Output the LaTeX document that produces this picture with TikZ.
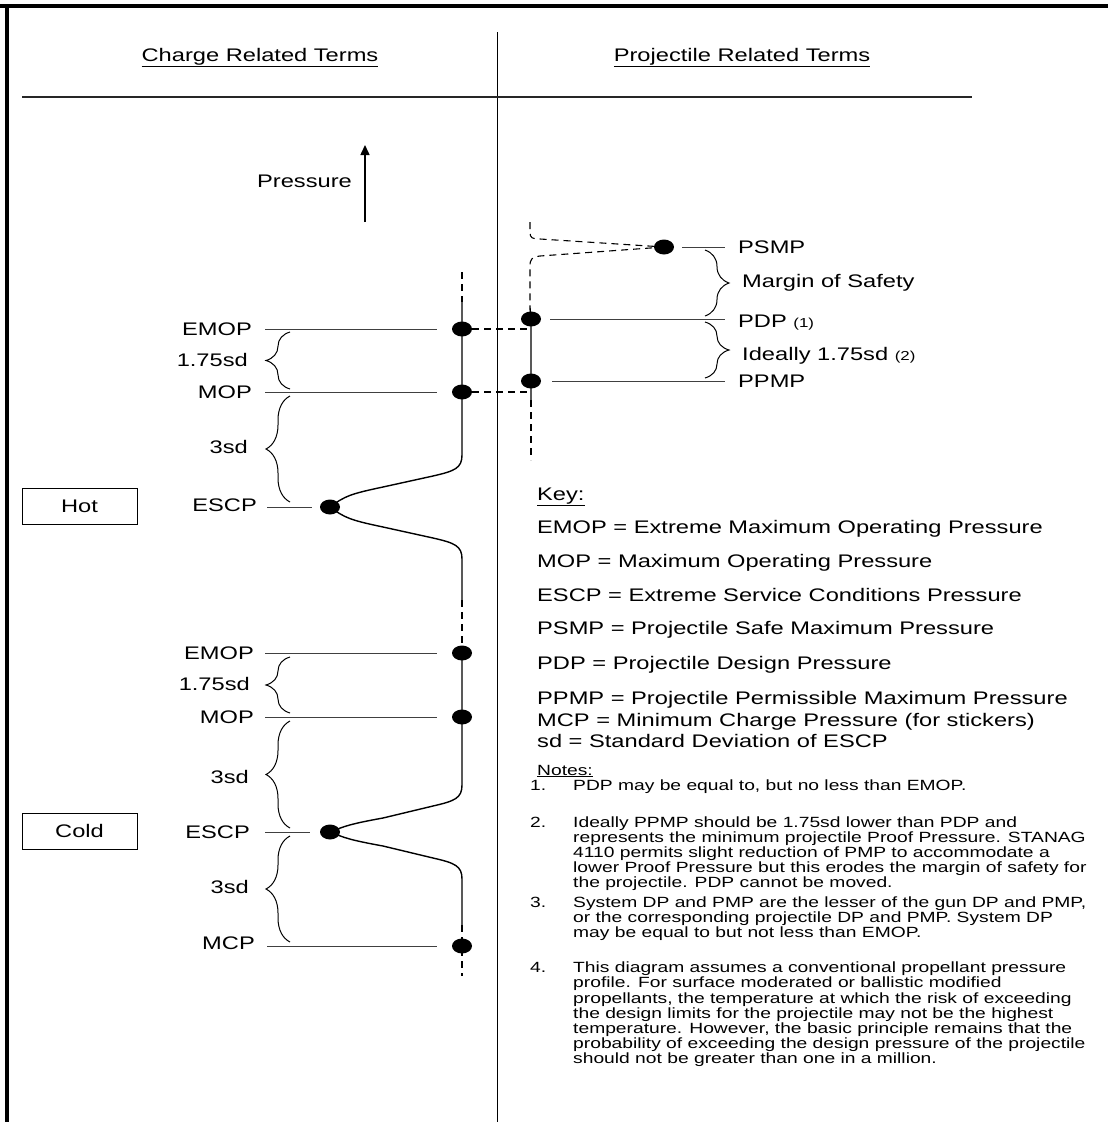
\documentclass[tikz,border=0pt]{standalone}
\usepackage{fontspec}
\setmainfont{Liberation Sans}[FakeStretch=1.3]
\usetikzlibrary{decorations.pathreplacing,arrows.meta,shapes.geometric}
\begin{document}
\begin{tikzpicture}[x=1pt,y=-1pt,
  lbl/.style={font=\fontsize{18.2}{21}\selectfont, inner sep=0pt},
  nte/.style={font=\fontsize{14.8}{17}\selectfont, inner sep=0pt, anchor=base west},
  key/.style={lbl, anchor=base west},
  conn/.style={line width=1.4pt, black},
  dsh/.style={line width=1.1pt, black, dash pattern=on 7pt off 5pt},
  tick/.style={line width=1pt, black!75},
  dot/.style={ellipse, fill=black, minimum width=20pt, minimum height=15pt, inner sep=0pt},
  brc/.style={decorate, decoration={brace, amplitude=24pt}, line width=1pt},
  tbox/.style={lbl, draw, line width=1pt, minimum width=115pt, minimum height=36pt}]
\useasboundingbox (0,0) rectangle (1108,1122);
% frame
\draw[line width=4pt] (0,6) -- (1108,6);
\draw[line width=4pt] (7,4) -- (7,1122);
\draw[line width=1pt] (497,32) -- (497,1122);
\draw[line width=1.6pt, black!85] (22,97) -- (972,97);
% titles
\node[lbl, anchor=base] (t1) at (260,61) {\underline{Charge Related Terms}};
\node[lbl, anchor=base] (t2) at (742,61) {\underline{Projectile Related Terms}};
% pressure arrow
\coordinate (pa) at (365,222);
\coordinate (pb) at (365,145);
\draw[line width=1.5pt, -{Triangle[length=10pt,width=9pt]}] (pa) -- (pb);
\node[lbl, anchor=east] (press) at (352,181) {Pressure};
% dots
\node[dot] (h1) at (462,329) {};
\node[dot] (h2) at (462,392) {};
\node[dot] (h3) at (330,507) {};
\node[dot] (c1) at (462,653) {};
\node[dot] (c2) at (462,717) {};
\node[dot] (c3) at (330,832) {};
\node[dot] (c4) at (462,946) {};
\node[dot] (p0) at (664,247) {};
\node[dot] (p1) at (531,319) {};
\node[dot] (p2) at (531,381) {};
% hot distribution
\coordinate (ht) at (462,272);
\coordinate (hs) at (462,302);
\draw[dsh] (ht) -- (hs);
\draw[conn] (hs) -- (h1.center) -- (h2.center) -- (462,455)
  .. controls (462,468) and (455,471) .. (433,476) -- (383,487)
  .. controls (350,494) and (345,496) .. (h3.center)
  .. controls (345,518) and (350,520) .. (383,527) -- (433,538)
  .. controls (455,543) and (462,546) .. (462,559) -- (462,600);
% cold distribution
\coordinate (ct) at (462,600);
\draw[dsh] (ct) -- (c1);
\draw[conn] (c1.center) -- (c2.center) -- (462,785)
  .. controls (462,798) and (455,801) .. (433,806) -- (383,818)
  .. controls (350,824) and (345,826) .. (c3.center)
  .. controls (345,838) and (350,840) .. (383,846) -- (433,858)
  .. controls (455,863) and (462,866) .. (462,879) -- (462,925);
\coordinate (cb) at (462,925);
\coordinate (ce) at (462,976);
\draw[dsh] (cb) -- (c4.center) -- (ce);
% projectile distribution
\coordinate (q0) at (530,222);
\draw[dsh] (q0) -- (530,232) .. controls (530,238) and (532,239) .. (540,239) -- (p0.center);
\draw[dsh] (p0.center) -- (540,256) .. controls (532,257) and (530,259) .. (530,266) -- (530,308);
\coordinate (q1) at (530,308);
\draw[conn] (q1) -- (p1.center) -- (p2.center) -- (531,400);
\coordinate (q2) at (531,400);
\coordinate (q3) at (531,460);
\draw[dsh] (q2) -- (q3);
% dashed links
\coordinate (l1) at (531,329);
\coordinate (l2) at (531,392);
\draw[dsh] (h1) -- (l1);
\draw[dsh] (h2) -- (l2);
% hot labels
\node[lbl, anchor=east] (hemop) at (252,329) {EMOP};
\node[lbl, anchor=east] (hsd1) at (248,360) {1.75sd};
\node[lbl, anchor=east] (hmop) at (252,392) {MOP};
\node[lbl, anchor=east] (hsd2) at (248,447) {3sd};
\node[lbl, anchor=east] (hescp) at (257,505) {ESCP};
\draw[tick] ([xshift=13pt]hemop.east) -- ([xshift=-15pt]h1.west);
\draw[tick] ([xshift=13pt]hmop.east) -- ([xshift=-15pt]h2.west);
\draw[tick] ([xshift=10pt]hescp.east |- h3) -- ([xshift=-8pt]h3.west);
\draw[brc] (290,389) -- (290,332);
\draw[brc] (290,502) -- (290,396);
\node[tbox] (hot) at (79.5,506.5) {Hot};
% cold labels
\node[lbl, anchor=east] (cemop) at (254,653) {EMOP};
\node[lbl, anchor=east] (csd1) at (250,684) {1.75sd};
\node[lbl, anchor=east] (cmop) at (254,717) {MOP};
\node[lbl, anchor=east] (csd2) at (249,777) {3sd};
\node[lbl, anchor=east] (cescp) at (250,832) {ESCP};
\node[lbl, anchor=east] (csd3) at (249,887) {3sd};
\node[lbl, anchor=east] (cmcp) at (255,943) {MCP};
\draw[tick] ([xshift=11pt]cemop.east) -- ([xshift=-15pt]c1.west);
\draw[tick] ([xshift=11pt]cmop.east) -- ([xshift=-15pt]c2.west);
\draw[tick] ([xshift=15pt]cescp.east |- c3) -- ([xshift=-10pt]c3.west);
\draw[tick] ([xshift=12pt]cmcp.east |- c4) -- ([xshift=-15pt]c4.west);
\draw[brc] (290,713) -- (290,657);
\draw[brc] (290,828) -- (290,721);
\draw[brc] (290,942) -- (290,836);
\node[tbox] (cold) at (79.5,831) {Cold};
% projectile labels
\node[lbl, anchor=west] (psmp) at (738,247) {PSMP};
\node[lbl, anchor=west] (mos) at (742,283) {Margin of Safety};
\node[lbl, anchor=base west] (pdp) at (738,327) {PDP {\fontsize{13}{15}\selectfont (1)}};
\node[lbl, anchor=base west] (ideal) at (742,360) {Ideally 1.75sd {\fontsize{13}{15}\selectfont (2)}};
\node[lbl, anchor=west] (ppmp) at (738,381) {PPMP};
\draw[tick] ([xshift=8pt]p0.east) -- ([xshift=-13pt]psmp.west);
\draw[tick] ([xshift=9pt]p1.east) -- ([xshift=-13pt]psmp.west |- p1);
\draw[tick] ([xshift=11pt]p2.east) -- ([xshift=-13pt]ppmp.west);
\draw[brc] (705,250) -- (705,316);
\draw[brc] (705,322) -- (705,378);
% key
\node[key] (k0) at (537,500) {\underline{Key:}};
\node[key] (k1) at (537,533) {EMOP = Extreme Maximum Operating Pressure};
\node[key] (k2) at (537,567) {MOP = Maximum Operating Pressure};
\node[key] (k3) at (537,601) {ESCP = Extreme Service Conditions Pressure};
\node[key] (k4) at (537,634) {PSMP = Projectile Safe Maximum Pressure};
\node[key] (k5) at (537,669) {PDP = Projectile Design Pressure};
\node[key] (k6) at (537,704) {PPMP = Projectile Permissible Maximum Pressure};
\node[key] (k7) at (537,726) {MCP = Minimum Charge Pressure (for stickers)};
\node[key] (k8) at (537,747) {sd = Standard Deviation of ESCP};
% notes
\node[nte] (n0) at (537,775) {\underline{Notes:}};
\node[nte] (n1) at (530,790) {1.};
\node[nte] (n1a) at (573,790) {PDP may be equal to, but no less than EMOP.};
\node[nte] (n2) at (530,827) {2.};
\node[nte] (n2a) at (573,827) {Ideally PPMP should be 1.75sd lower than PDP and};
\node[nte] (n2b) at (573,842) {represents the minimum projectile Proof Pressure. STANAG};
\node[nte] (n2c) at (573,857) {4110 permits slight reduction of PMP to accommodate a};
\node[nte] (n2d) at (573,872) {lower Proof Pressure but this erodes the margin of safety for};
\node[nte] (n2e) at (573,887) {the projectile. PDP cannot be moved.};
\node[nte] (n3) at (530,907) {3.};
\node[nte] (n3a) at (573,907) {System DP and PMP are the lesser of the gun DP and PMP,};
\node[nte] (n3b) at (573,922) {or the corresponding projectile DP and PMP. System DP};
\node[nte] (n3c) at (573,937) {may be equal to but not less than EMOP.};
\node[nte] (n4) at (530,972) {4.};
\node[nte] (n4a) at (573,972) {This diagram assumes a conventional propellant pressure};
\node[nte] (n4b) at (573,987) {profile. For surface moderated or ballistic modified};
\node[nte] (n4c) at (573,1003) {propellants, the temperature at which the risk of exceeding};
\node[nte] (n4d) at (573,1018) {the design limits for the projectile may not be the highest};
\node[nte] (n4e) at (573,1033) {temperature. However, the basic principle remains that the};
\node[nte] (n4f) at (573,1048) {probability of exceeding the design pressure of the projectile};
\node[nte] (n4g) at (573,1063) {should not be greater than one in a million.};
\end{tikzpicture}
\end{document}
